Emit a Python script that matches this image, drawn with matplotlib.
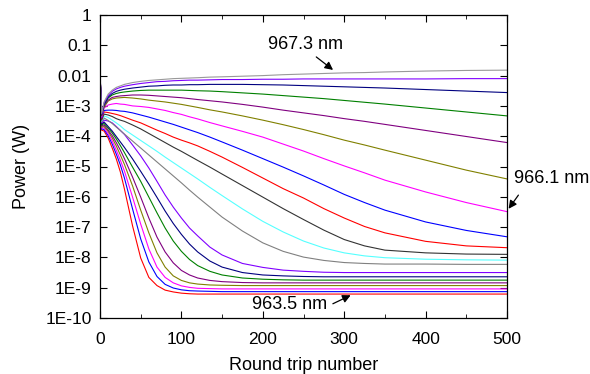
import numpy as np
import matplotlib
matplotlib.use("Agg")
import matplotlib.pyplot as plt
from matplotlib.ticker import FixedLocator, LogLocator, MultipleLocator, NullFormatter

plt.rcParams['font.family'] = ['Liberation Sans', 'DejaVu Sans']

# round trip numbers at which the curves were read
rounds = [0, 2, 5, 10, 15, 20, 25, 30, 40, 50, 60, 70, 80, 90, 100, 110, 120, 135, 150,
          175, 200, 225, 250, 275, 300, 325, 350, 400, 450, 500]

# log10 of power (W), one list per wavelength (bottom curve first)
p_963_5 = [-1.88, -3.80, -3.83, -4.06, -4.39, -4.75, -5.18, -5.74, -6.96, -8.02, -8.66, -8.93,
           -9.08, -9.14, -9.18, -9.20, -9.21, -9.21, -9.21, -9.21, -9.21, -9.21, -9.21, -9.21,
           -9.21, -9.21, -9.21, -9.21, -9.21, -9.21]
p_963_7 = [-1.88, -3.76, -3.78, -3.98, -4.26, -4.59, -4.95, -5.38, -6.40, -7.39, -8.15, -8.63,
           -8.89, -9.01, -9.07, -9.10, -9.11, -9.12, -9.13, -9.13, -9.13, -9.13, -9.13, -9.13,
           -9.13, -9.13, -9.13, -9.13, -9.13, -9.13]
p_963_9 = [-1.88, -3.73, -3.73, -3.91, -4.16, -4.46, -4.79, -5.15, -6.01, -6.90, -7.72, -8.32,
           -8.66, -8.84, -8.94, -8.99, -9.02, -9.03, -9.04, -9.04, -9.04, -9.04, -9.04, -9.04,
           -9.04, -9.04, -9.04, -9.04, -9.04, -9.04]
p_964_1 = [-1.88, -3.70, -3.68, -3.84, -4.06, -4.32, -4.62, -4.93, -5.64, -6.44, -7.19, -7.85,
           -8.32, -8.61, -8.76, -8.84, -8.88, -8.91, -8.92, -8.93, -8.93, -8.93, -8.93, -8.93,
           -8.93, -8.93, -8.93, -8.93, -8.93, -8.93]
p_964_3 = [-1.88, -3.66, -3.63, -3.80, -3.98, -4.21, -4.46, -4.74, -5.35, -6.01, -6.70, -7.33,
           -7.82, -8.18, -8.43, -8.58, -8.68, -8.76, -8.80, -8.83, -8.84, -8.84, -8.84, -8.84,
           -8.84, -8.84, -8.84, -8.84, -8.84, -8.84]
p_964_5 = [-1.88, -3.63, -3.58, -3.73, -3.89, -4.09, -4.31, -4.54, -5.02, -5.49, -6.01, -6.53,
           -7.03, -7.46, -7.80, -8.07, -8.27, -8.46, -8.58, -8.68, -8.72, -8.74, -8.75, -8.75,
           -8.75, -8.75, -8.75, -8.75, -8.75, -8.75]
p_964_7 = [-1.88, -3.60, -3.53, -3.68, -3.83, -4.01, -4.19, -4.37, -4.75, -5.16, -5.58, -6.02,
           -6.47, -6.88, -7.24, -7.56, -7.82, -8.12, -8.32, -8.50, -8.58, -8.61, -8.63, -8.64,
           -8.64, -8.64, -8.64, -8.64, -8.64, -8.64]
p_964_9 = [-1.88, -3.56, -3.47, -3.50, -3.56, -3.68, -3.81, -3.94, -4.29, -4.65, -5.05, -5.49,
           -5.94, -6.34, -6.70, -7.03, -7.29, -7.66, -7.92, -8.20, -8.33, -8.42, -8.46, -8.49,
           -8.50, -8.50, -8.50, -8.50, -8.50, -8.50]
p_965_1 = [-1.88, -3.53, -3.40, -3.48, -3.58, -3.70, -3.81, -3.93, -4.16, -4.39, -4.62, -4.85,
           -5.08, -5.31, -5.54, -5.78, -6.01, -6.34, -6.67, -7.13, -7.52, -7.80, -7.99, -8.10,
           -8.17, -8.20, -8.22, -8.22, -8.23, -8.23]
p_965_3 = [-1.88, -3.50, -3.33, -3.38, -3.47, -3.56, -3.66, -3.78, -3.96, -4.14, -4.32, -4.50,
           -4.69, -4.87, -5.05, -5.23, -5.41, -5.69, -5.96, -6.40, -6.81, -7.16, -7.46, -7.69,
           -7.85, -7.95, -8.01, -8.06, -8.08, -8.09]
p_965_5 = [-1.88, -3.47, -3.27, -3.30, -3.35, -3.42, -3.47, -3.51, -3.63, -3.76, -3.91, -4.06,
           -4.21, -4.36, -4.50, -4.65, -4.80, -5.02, -5.25, -5.63, -6.01, -6.39, -6.75, -7.10,
           -7.41, -7.62, -7.76, -7.85, -7.89, -7.90]
p_965_7 = [-1.88, -3.43, -3.20, -3.22, -3.25, -3.28, -3.32, -3.37, -3.47, -3.56, -3.68, -3.80,
           -3.91, -4.03, -4.13, -4.22, -4.32, -4.50, -4.69, -5.03, -5.38, -5.73, -6.04, -6.39,
           -6.70, -6.98, -7.19, -7.47, -7.62, -7.68]
p_965_9 = [-1.88, -3.40, -3.15, -3.14, -3.14, -3.15, -3.17, -3.18, -3.23, -3.30, -3.37, -3.45,
           -3.53, -3.61, -3.70, -3.79, -3.88, -4.03, -4.19, -4.46, -4.74, -5.02, -5.31, -5.61,
           -5.92, -6.19, -6.44, -6.83, -7.11, -7.32]
p_966_1 = [-1.88, -3.37, -3.07, -2.97, -2.94, -2.92, -2.94, -2.95, -3.00, -3.02, -3.05, -3.10,
           -3.15, -3.22, -3.28, -3.36, -3.43, -3.55, -3.66, -3.84, -4.03, -4.26, -4.49, -4.74,
           -4.98, -5.21, -5.45, -5.84, -6.19, -6.49]
p_966_3 = [-1.88, -3.33, -3.04, -2.84, -2.77, -2.74, -2.73, -2.72, -2.74, -2.77, -2.81, -2.84,
           -2.87, -2.91, -2.95, -3.00, -3.05, -3.13, -3.20, -3.33, -3.47, -3.62, -3.78, -3.95,
           -4.13, -4.29, -4.46, -4.79, -5.12, -5.41]
p_966_5 = [-1.88, -3.32, -3.00, -2.81, -2.72, -2.69, -2.67, -2.66, -2.64, -2.64, -2.65, -2.67,
           -2.69, -2.71, -2.73, -2.76, -2.79, -2.83, -2.87, -2.95, -3.04, -3.14, -3.23, -3.32,
           -3.42, -3.51, -3.61, -3.81, -4.01, -4.21]
p_966_7 = [-1.88, -3.30, -2.97, -2.74, -2.64, -2.59, -2.56, -2.54, -2.51, -2.49, -2.48, -2.48,
           -2.48, -2.48, -2.48, -2.49, -2.50, -2.51, -2.53, -2.57, -2.61, -2.66, -2.71, -2.76,
           -2.82, -2.88, -2.94, -3.07, -3.20, -3.33]
p_966_9 = [-1.88, -3.28, -2.94, -2.71, -2.59, -2.52, -2.48, -2.45, -2.41, -2.38, -2.35, -2.34,
           -2.32, -2.31, -2.31, -2.30, -2.30, -2.29, -2.29, -2.29, -2.30, -2.31, -2.33, -2.35,
           -2.37, -2.39, -2.41, -2.46, -2.51, -2.56]
p_967_1 = [-1.88, -3.27, -2.90, -2.66, -2.52, -2.44, -2.39, -2.35, -2.30, -2.26, -2.23, -2.20,
           -2.19, -2.17, -2.16, -2.15, -2.15, -2.14, -2.13, -2.13, -2.12, -2.12, -2.11, -2.11,
           -2.11, -2.11, -2.11, -2.11, -2.10, -2.10]
p_967_3 = [-1.88, -3.25, -2.87, -2.61, -2.48, -2.39, -2.34, -2.29, -2.23, -2.19, -2.16, -2.14,
           -2.12, -2.10, -2.09, -2.08, -2.07, -2.05, -2.04, -2.02, -2.00, -1.97, -1.95, -1.93,
           -1.91, -1.90, -1.88, -1.85, -1.83, -1.82]

curves = [p_963_5, p_963_7, p_963_9, p_964_1, p_964_3, p_964_5, p_964_7, p_964_9, p_965_1, p_965_3,
          p_965_5, p_965_7, p_965_9, p_966_1, p_966_3, p_966_5, p_966_7, p_966_9, p_967_1, p_967_3]

colors = ['#FF0000', '#0000FF', '#FF00FF', '#808000', '#800080', '#008000', '#000080', '#8000FF',
          '#808080', '#55FFFF', '#333333',
          '#FF0000', '#0000FF', '#FF00FF', '#808000', '#800080', '#008000', '#000080', '#8000FF',
          '#999999']

y_ticks = [1e-10, 1e-9, 1e-8, 1e-7, 1e-6, 1e-5, 1e-4, 1e-3, 1e-2, 1e-1, 1]
y_tick_labels = ['1E-10', '1E-9', '1E-8', '1E-7', '1E-6', '1E-5', '1E-4', '1E-3', '0.01', '0.1', '1']

fig = plt.figure(figsize=(5.9, 3.74), dpi=100)
ax = fig.add_axes([100 / 590, 1 - 318 / 374, 407 / 590, 303 / 374])

for vals, c in zip(curves, colors):
    ax.plot(rounds, 10 ** np.array(vals), color=c, lw=0.8)

ax.set_yscale('log')
ax.set_xlim(0, 500)
ax.set_ylim(1e-10, 1)

ax.xaxis.set_major_locator(MultipleLocator(100))
ax.xaxis.set_minor_locator(MultipleLocator(50))
ax.yaxis.set_major_locator(FixedLocator(y_ticks))
ax.set_yticklabels(y_tick_labels)
ax.yaxis.set_minor_locator(LogLocator(base=10, subs=np.arange(2, 10)))
ax.yaxis.set_minor_formatter(NullFormatter())

ax.tick_params(which='both', direction='in', top=True, right=True, labelsize=12.5)
ax.tick_params(which='major', length=5, width=0.8)
ax.tick_params(which='minor', length=3, width=0.6)
ax.tick_params(axis='x', pad=10)
ax.tick_params(axis='y', pad=6)
for s in ax.spines.values():
    s.set_linewidth(0.9)

ax.set_xlabel('Round trip number', fontsize=13, labelpad=7)
ax.set_ylabel('Power (W)', fontsize=13, labelpad=11)

arrow = dict(arrowstyle='-|>', color='black', lw=0.9, mutation_scale=12)
ax.text(253, 0.11, '967.3 nm', fontsize=13, ha='center', va='center')
ax.annotate('', xy=(289, 0.0135), xytext=(263, 0.047), arrowprops=arrow)
ax.text(508, 10 ** -5.38, '966.1 nm', fontsize=13, ha='left', va='center', clip_on=False)
ax.annotate('', xy=(500, 10 ** -6.47), xytext=(516, 10 ** -5.87), arrowprops=arrow,
            annotation_clip=False)
ax.text(233, 10 ** -9.55, '963.5 nm', fontsize=13, ha='center', va='center')
ax.annotate('', xy=(311, 10 ** -9.21), xytext=(283, 10 ** -9.57), arrowprops=arrow)

fig.savefig('out.png', dpi=100)
